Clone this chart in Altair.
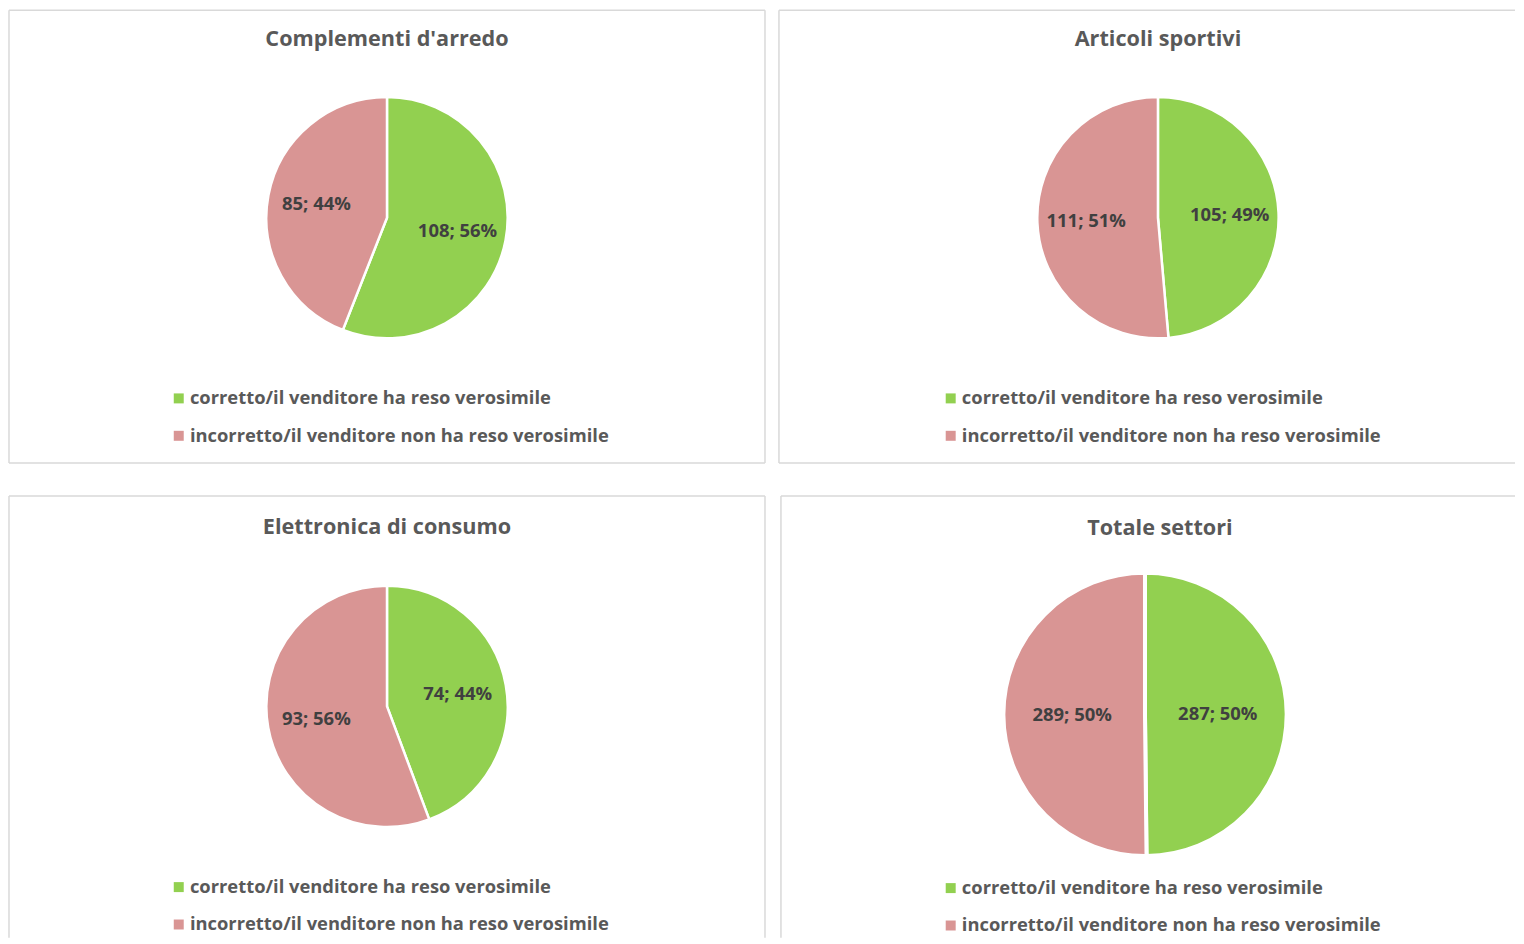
import altair as alt
import pandas as pd

titles = ["Complementi d'arredo", "Articoli sportivi", "Elettronica di consumo", "Totale settori"]
corretto = [108, 105, 74, 287]
incorretto = [85, 111, 93, 289]
categories = ["corretto/il venditore ha reso verosimile",
              "incorretto/il venditore non ha reso verosimile"]
colors = ["#92d050", "#d99594"]

FONT = "Open Sans"
BORDER = "#d9d9d9"


def panel(i, w, h, cx, cy, r, lr, tx, ty, lx, ly, sw, right_border, bottom_border):
    vals = [corretto[i], incorretto[i]]
    tot = sum(vals)
    df = pd.DataFrame({
        "cat": categories,
        "value": vals,
        "ord": [0, 1],
        "label": [f"{v}; {round(v / tot * 100)}%" for v in vals],
    })
    base = alt.Chart(df).encode(
        theta=alt.Theta("value:Q", stack=True),
        order=alt.Order("ord:Q"),
    )
    arcs = base.mark_arc(radius=r, stroke="white", strokeWidth=sw).encode(
        x=alt.value(cx), y=alt.value(cy),
        color=alt.Color(
            "cat:N",
            sort=categories,
            scale=alt.Scale(domain=categories, range=colors),
            legend=alt.Legend(
                title=None, orient="none", legendX=lx, legendY=ly,
                symbolType="square", symbolSize=100, symbolStrokeWidth=0,
                labelFontSize=18.4, labelFont=FONT, labelFontWeight="bold",
                labelColor="#595959", labelLimit=700, rowPadding=18.5,
                labelOffset=2,
            ),
        ),
    )
    text = base.mark_text(
        radius=lr, font=FONT, fontSize=18.5, fontWeight="bold", color="#404040"
    ).encode(x=alt.value(cx), y=alt.value(cy), text="label:N")
    tdf = pd.DataFrame({"t": [titles[i]]})
    ttl = alt.Chart(tdf).mark_text(
        font=FONT, fontSize=21.7, fontWeight="bold", color="#595959", baseline="middle"
    ).encode(x=alt.value(tx), y=alt.value(ty), text="t:N")

    one = pd.DataFrame({"k": [0]})
    rule = lambda **enc: alt.Chart(one).mark_rule(color=BORDER, strokeWidth=1.5).encode(**enc)
    borders = [
        rule(x=alt.value(0), y=alt.value(0), y2=alt.value(h)),
        rule(x=alt.value(0), x2=alt.value(w), y=alt.value(0)),
    ]
    if right_border:
        borders.append(rule(x=alt.value(w), y=alt.value(0), y2=alt.value(h)))
    if bottom_border:
        borders.append(rule(x=alt.value(0), x2=alt.value(w), y=alt.value(h)))
    return alt.layer(*borders, arcs, text, ttl).properties(width=w, height=h)


p1 = panel(0, 758, 454, 379, 208, 121, 72, 379, 29, 161, 380, 2.5, True, True)
p2 = panel(1, 738, 454, 380, 208, 121, 72, 380, 29, 163, 380, 2.5, False, True)
p3 = panel(2, 758, 443, 379, 211, 121, 72, 379, 31, 161, 383, 2.5, True, False)
p4 = panel(3, 736, 443, 365, 219, 142, 73, 380, 32, 161, 384, 4, False, False)

row1 = alt.hconcat(p1, p2, spacing=12).resolve_scale(color="independent").resolve_legend(color="independent")
row2 = alt.hconcat(p3, p4, spacing=14).resolve_scale(color="independent").resolve_legend(color="independent")

chart = (
    alt.vconcat(row1, row2, spacing=31)
    .resolve_scale(color="independent")
    .resolve_legend(color="independent")
    .properties(padding=0, background="white")
    .configure_view(strokeWidth=0)
)

chart.save("out.html", embed_options={"renderer": "svg", "actions": False})
